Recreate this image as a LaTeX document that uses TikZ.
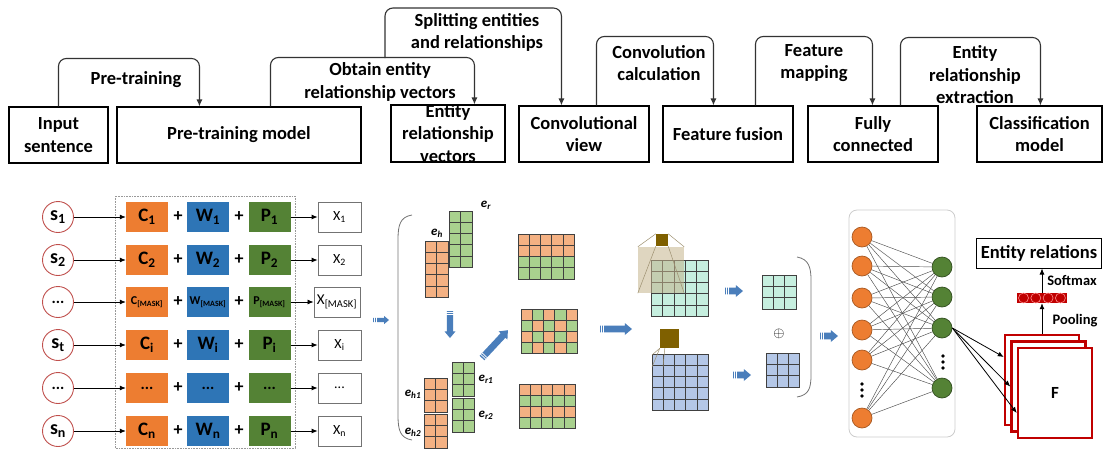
\documentclass[tikz,border=0pt]{standalone}
\usepackage{fontspec}
\setmainfont{Carlito}
\usetikzlibrary{arrows.meta}
\definecolor{cC}{HTML}{ED7D31}
\definecolor{cW}{HTML}{2E75B6}
\definecolor{cP}{HTML}{548235}
\definecolor{lor}{HTML}{F4B183}
\definecolor{lgr}{HTML}{A9D18E}
\definecolor{mint}{HTML}{C6EFDF}
\definecolor{lbl}{HTML}{B4C7E7}
\definecolor{brn}{HTML}{7F6000}
\definecolor{tanc}{HTML}{C4B48C}
\definecolor{barc}{HTML}{4A7EBB}
\definecolor{redf}{HTML}{C00000}
\definecolor{circr}{HTML}{C0504D}
\newcommand\toptxt{\fontsize{18.5}{22.5}\selectfont\bfseries}
\newcommand\ruleO{\def\cc{lor}}
\newcommand\ruleG{\def\cc{lgr}}
\newcommand\ruleM{\def\cc{mint}}
\newcommand\ruleB{\def\cc{lbl}}
\newcommand\ruleTop{\ifnum\cj<3 \def\cc{lor}\else\def\cc{lgr}\fi}
\newcommand\ruleChk{\ifodd\numexpr\ci+\cj\relax \def\cc{lgr}\else\def\cc{lor}\fi}
\newcommand\ruleAlt{\ifodd\cj \def\cc{lor}\else\def\cc{lgr}\fi}
\newcommand\cgrid[7]{%
  \foreach \ci in {1,...,#3}{\foreach \cj in {1,...,#4}{%
    #7%
    \draw[gcell,fill=\cc] ({#1+(\ci-1)*#5},{#2+(\cj-1)*#6}) rectangle ++(#5,#6);
  }}}
\newcommand\barrow[5]{%
  \begin{scope}[shift={(#1,#2)},rotate=#4]
    \fill[barc] (0,{-0.55*#5}) -- ({#3-1.2*#5},{-0.55*#5}) -- ({#3-1.2*#5},{-#5}) -- (#3,0)
      -- ({#3-1.2*#5},{#5}) -- ({#3-1.2*#5},{0.55*#5}) -- (0,{0.55*#5}) -- cycle;
    \draw[white,line width=0.7pt] (1.8,{-0.7*#5}) -- (1.8,{0.7*#5}) (3.8,{-0.7*#5}) -- (3.8,{0.7*#5});
  \end{scope}}
\newcommand\embrow[8]{%
  \node[scirc] (s#1) at (58,#2) {#3};
  \node[cbox,fill=cC] (c#1) at (147,#2) {#4};
  \node[plus] (pa#1) at (178,#2) {+};
  \node[cbox,fill=cW] (w#1) at (208,#2) {#5};
  \node[plus] (pb#1) at (239,#2) {+};
  \node[cbox,fill=cP] (p#1) at (269.5,#2) {#6};
  \node[xbox] (x#1) at (#8,#2) {#7};
  \draw[arr] (s#1) -- (c#1);
  \draw[arr] (p#1) -- (x#1);
}
\begin{document}
\begin{tikzpicture}[x=1pt,y=-1pt,
  tbox/.style 2 args={draw, line width=1.1pt, minimum width=#1pt, minimum height=#2pt, inner sep=0pt, align=center, font=\toptxt},
  lbltxt/.style={align=center, font=\toptxt, inner sep=0pt},
  conn/.style={line width=1.1pt, draw=black!80, rounded corners=8pt, -{Latex[length=7pt,width=6pt]}},
  arr/.style={line width=0.8pt, -{Latex[length=6pt,width=5pt]}},
  scirc/.style={circle, draw=circr, line width=0.9pt, fill=white, minimum size=31pt, inner sep=0pt, font=\fontsize{20}{22}\selectfont\bfseries},
  cbox/.style={minimum width=42pt, minimum height=30pt, inner sep=0pt, font=\fontsize{19}{22}\selectfont\bfseries},
  plus/.style={inner sep=0pt, font=\fontsize{18}{20}\selectfont\bfseries},
  xbox/.style={draw=black!55, line width=0.8pt, fill=white, minimum width=43pt, minimum height=30pt, inner xsep=3pt, inner ysep=0pt, font=\fontsize{14}{16}\selectfont},
  gcell/.style={draw=black!75, line width=0.6pt},
  elbl/.style={inner sep=0pt, font=\fontsize{13}{15}\selectfont\bfseries\itshape},
  brk/.style={draw=black!55, line width=0.8pt},
  projl/.style={draw=tanc!80!black, line width=0.5pt},
  ocirc/.style={circle, fill=cC, draw=cC!70!black, line width=0.7pt, minimum size=20pt, inner sep=0pt},
  gcirc/.style={circle, fill=cP, draw=cP!60!black, line width=0.7pt, minimum size=20pt, inner sep=0pt},
  edge/.style={draw=black!70, line width=0.45pt},
  fbox/.style={draw=redf, line width=2.5pt, fill=white, minimum width=74pt, minimum height=90pt, inner sep=0pt},
  smalltxt/.style={inner sep=0pt, font=\fontsize{14.5}{16}\selectfont\bfseries}
]
\useasboundingbox (0,0) rectangle (1104,451);

% ---------------- top flow ----------------
\node[tbox={99}{56}] (in) at (58.5,135) {Input\\sentence};
\node[tbox={244}{56}] (pt) at (239,135) {Pre-training model};
\node[tbox={114}{57}] (erv) at (448,133.5) {};
\node[lbltxt] (ervt) at (448,133.5) {Entity\\relationship\\vectors};
\node[tbox={130}{56}] (cv) at (584,134) {Convolutional\\view};
\node[tbox={130}{56}] (ff) at (728,134) {Feature fusion};
\node[tbox={130}{56}] (fc) at (873,134) {Fully\\connected};
\node[tbox={125}{56}] (cm) at (1039.5,134) {Classification\\model};

\draw[conn] ([xshift=50pt]in.north west) -- ++(0,-48) -| ([xshift=83pt]pt.north west);
\draw[conn] ([xshift=154pt]pt.north west) -- ++(0,-49) -| ([xshift=84pt]erv.north west);
\coordinate (sp) at (385,58);
\draw[conn] (sp) -- ++(0,-50) -| ([xshift=43pt]cv.north west);
\draw[conn] ([xshift=78pt]cv.north west) -- ++(0,-69) -| ([xshift=51pt]ff.north west);
\draw[conn] ([xshift=93pt]ff.north west) -- ++(0,-69) -| ([xshift=65pt]fc.north west);
\draw[conn] ([xshift=93pt]fc.north west) -- ++(0,-68) -| ([xshift=64pt]cm.north west);

\node[lbltxt] (l1) at (136,80) {Pre-training};
\node[lbltxt] (l2) at (380,82) {Obtain entity\\relationship vectors};
\node[lbltxt] (l3) at (477,32.5) {Splitting entities\\and relationships};
\node[lbltxt] (l4) at (659,63) {Convolution\\calculation};
\node[lbltxt] (l5) at (814,63) {Feature\\mapping};
\node[lbltxt] (l6) at (975,75) {Entity\\relationship\\extraction};

% ---------------- embedding rows ----------------
\draw[densely dotted, draw=black!40, line width=0.6pt] (115,196) rectangle (295,448);
\embrow{1}{217}{s\textsubscript{1}}{C\textsubscript{1}}{W\textsubscript{1}}{P\textsubscript{1}}{X\textsubscript{1}}{339.5}
\embrow{2}{260}{s\textsubscript{2}}{C\textsubscript{2}}{W\textsubscript{2}}{P\textsubscript{2}}{X\textsubscript{2}}{339.5}
\embrow{3}{302}{\fontsize{16}{18}\selectfont ...}{\fontsize{12}{14}\selectfont C\textsubscript{[MASK]}}{\fontsize{12}{14}\selectfont W\textsubscript{[MASK]}}{\fontsize{12}{14}\selectfont P\textsubscript{[MASK]}}{\fontsize{15}{17}\selectfont X\textsubscript{[MASK]}}{337}
\embrow{4}{345}{s\textsubscript{t}}{C\textsubscript{i}}{W\textsubscript{i}}{P\textsubscript{i}}{X\textsubscript{i}}{339.5}
\embrow{5}{388}{\fontsize{16}{18}\selectfont ...}{\fontsize{16}{18}\selectfont ...}{\fontsize{16}{18}\selectfont ...}{\fontsize{16}{18}\selectfont ...}{...}{339.5}
\embrow{6}{431}{s\textsubscript{n}}{C\textsubscript{n}}{W\textsubscript{n}}{P\textsubscript{n}}{X\textsubscript{n}}{339.5}

% ---------------- entity/relationship vectors ----------------
\barrow{373}{320}{16}{0}{4}
\draw[brk] (412,215) .. controls (400,217) and (398,225) .. (398,240) -- (398,415) .. controls (398,430) and (400,438) .. (412,440);
\cgrid{449}{211}{2}{5}{11.5}{11.2}{\ruleG}
\cgrid{425}{241}{2}{5}{11.5}{11.2}{\ruleO}
\cgrid{452}{362}{2}{3}{11}{11.3}{\ruleG}
\cgrid{452}{398}{2}{3}{11}{11.3}{\ruleG}
\cgrid{424}{378}{2}{3}{11.5}{11.3}{\ruleO}
\cgrid{424}{414}{2}{3}{11.5}{11.3}{\ruleO}
\node[elbl] (ler) at (486,205) {e\textsubscript{r}};
\node[elbl] (leh) at (437,233) {e\textsubscript{h}};
\node[elbl] (ler1) at (486,379) {e\textsubscript{r1}};
\node[elbl] (ler2) at (486,415) {e\textsubscript{r2}};
\node[elbl] (leh1) at (413,394) {e\textsubscript{h1}};
\node[elbl] (leh2) at (413,432) {e\textsubscript{h2}};
\barrow{450}{311}{27}{-90}{5.5}
\barrow{482}{358}{38}{47}{6}
\cgrid{518}{234}{5}{4}{11.2}{11.25}{\ruleTop}
\cgrid{521}{309}{5}{4}{11.2}{11}{\ruleChk}
\cgrid{519}{384}{5}{4}{11.2}{11}{\ruleAlt}
\barrow{600}{329}{32}{0}{6}

% ---------------- convolutional view ----------------
\cgrid{651}{260}{5}{5}{11.4}{11.2}{\ruleM}
\node[fill=tanc, fill opacity=0.55, minimum size=46pt, inner sep=0pt] (tanw) at (661,270) {};
\node[fill=brn, minimum size=12pt, inner sep=0pt] (k1) at (662,240) {};
\draw[projl] (k1.north west) -- (tanw.north west);
\draw[projl] (k1.north east) -- (tanw.north east);
\draw[projl] (k1.south west) -- (tanw.south west);
\draw[projl] (k1.south east) -- (tanw.south east);
\cgrid{652}{354}{5}{5}{11.2}{11.2}{\ruleB}
\node[fill=brn, minimum size=19pt, inner sep=0pt] (k2) at (669.5,338.5) {};
\draw[projl] (k2.south west) -- (652,355);
\draw[projl] (k2.south west) -- (652,367);
\draw[projl] ([xshift=5pt]k2.south west) -- (663,367);
\barrow{725}{291}{18}{0}{6}
\barrow{733}{375}{18}{0}{6}
\cgrid{762}{275}{3}{3}{11.3}{11.3}{\ruleM}
\cgrid{766}{353}{3}{3}{11.1}{11.3}{\ruleB}
\node[inner sep=0pt, font=\fontsize{15}{17}\selectfont] (oplus) at (779,334) {$\oplus$};
\draw[brk] (797,257) .. controls (809,259) and (811,268) .. (811,280) -- (811,375) .. controls (811,388) and (809,395) .. (797,397);
\barrow{820}{336}{18}{0}{6}

% ---------------- fully connected ----------------
\node[draw=black!20, line width=0.8pt, rounded corners=8pt, minimum width=106pt, minimum height=227pt, inner sep=0pt] (nn) at (902,323.5) {};
\foreach \k/\yy in {1/237,2/266,3/298,4/330,5/360,6/418}{\node[ocirc] (o\k) at (862,\yy) {};}
\foreach \k/\yy in {1/267,2/297,3/328,4/388}{\node[gcirc] (g\k) at (942,\yy) {};}
\foreach \a in {1,...,6}{\foreach \b in {1,...,4}{\draw[edge] (o\a) -- (g\b);}}
\foreach \yy in {384,390,396}{\fill (862,\yy) circle (1.8);}
\foreach \yy in {356,362,368}{\fill (943,\yy) circle (1.8);}

% ---------------- classification ----------------
\node[fbox] (f1) at (1042,380) {};
\node[fbox] (f2) at (1048.5,386.5) {};
\node[fbox, font=\fontsize{17}{19}\selectfont\bfseries] (f3) at (1055,393) {F};
\draw[arr] (g3.east) -- ([yshift=23pt]f1.west);
\draw[arr] (g3.east) -- (f2.west);
\draw[arr] (g3.east) -- ([yshift=-20pt]f3.west);
\node[fill=redf, minimum width=50pt, minimum height=10pt, inner sep=0pt] (bar) at (1042,298) {};
\foreach \k in {0,...,3}{\draw[draw=red!45!white, line width=0.6pt] (1023.5+\k*12.3,298) circle (5);}
\node[draw, line width=1pt, minimum width=125pt, minimum height=30pt, inner sep=0pt, font=\fontsize{18.5}{22}\selectfont\bfseries] (er) at (1039,253) {Entity relations};
\draw[arr] (f1.north) -- (bar.south);
\draw[arr] (bar.north) -- (bar.north |- er.south);
\node[smalltxt] (lsm) at (1072,281) {Softmax};
\node[smalltxt] (lpo) at (1075,321) {Pooling};
\end{tikzpicture}
\end{document}
